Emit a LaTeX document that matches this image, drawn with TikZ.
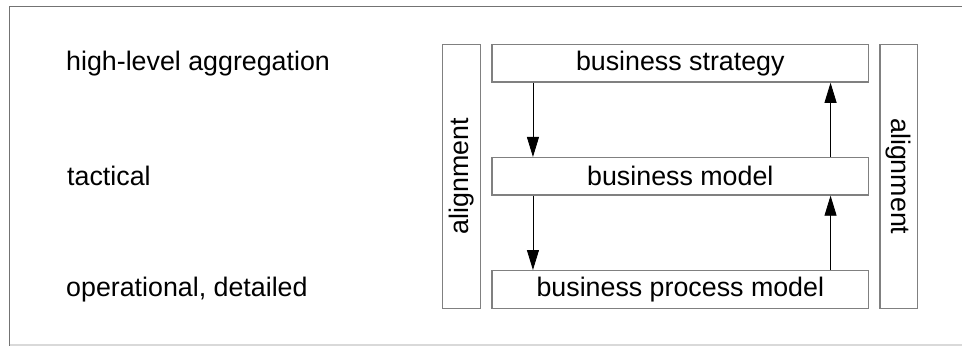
\documentclass[tikz,border=0pt]{standalone}
\usepackage{fontspec}
\setmainfont{Liberation Sans}
\usetikzlibrary{arrows.meta}
\begin{document}
\begin{tikzpicture}[x=1pt,y=-1pt,
  boxstyle/.style={draw=black!50,line width=1.4pt,inner sep=0pt,font=\fontsize{26.8}{30}\selectfont},
  lbl/.style={anchor=west,inner sep=0pt,font=\fontsize{26.8}{30}\selectfont},
  flow/.style={line width=0.8pt,-{Triangle[length=20pt,width=12pt]}}]
\useasboundingbox (0,0) rectangle (962,346);
\draw[black!55,line width=1.3pt] (962,6.5) -- (9.5,6.5) -- (9.5,346);
\draw[black!15,line width=1.2pt] (9.5,345) -- (962,345);
% main boxes
\node[boxstyle,minimum width=376.7pt,minimum height=37.7pt] (strat) at (680.3,63.2) {business strategy};
\node[boxstyle,minimum width=376.7pt,minimum height=37.3pt] (model) at (680.3,176.3) {business model};
\node[boxstyle,minimum width=376.7pt,minimum height=37.6pt] (proc) at (680.3,289.5) {business process model};
% alignment boxes
\node[boxstyle,minimum width=38pt,minimum height=264pt] (alL) at (461.7,176.3) {};
\node[rotate=90,font=\fontsize{26.8}{30}\selectfont,inner sep=0pt] at (alL.center) {alignment};
\node[boxstyle,minimum width=37.7pt,minimum height=264pt] (alR) at (898.8,176.3) {};
\node[rotate=-90,font=\fontsize{26.8}{30}\selectfont,inner sep=0pt] at (alR.center) {alignment};
% left labels
\node[lbl] (l1) at (66,63.2) {high-level aggregation};
\node[lbl] (l2) at (67,176.3) {tactical};
\node[lbl] (l3) at (66,289.5) {operational, detailed};
% arrows
\draw[flow] (strat.south west) ++(41.7,0) coordinate (a1) -- (a1 |- model.north);
\draw[flow] (model.south west) ++(41.7,0) coordinate (a2) -- (a2 |- proc.north);
\draw[flow] (proc.north west) ++(339.3,0) coordinate (a3) -- (a3 |- model.south);
\draw[flow] (model.north west) ++(339.3,0) coordinate (a4) -- (a4 |- strat.south);
\end{tikzpicture}
\end{document}
